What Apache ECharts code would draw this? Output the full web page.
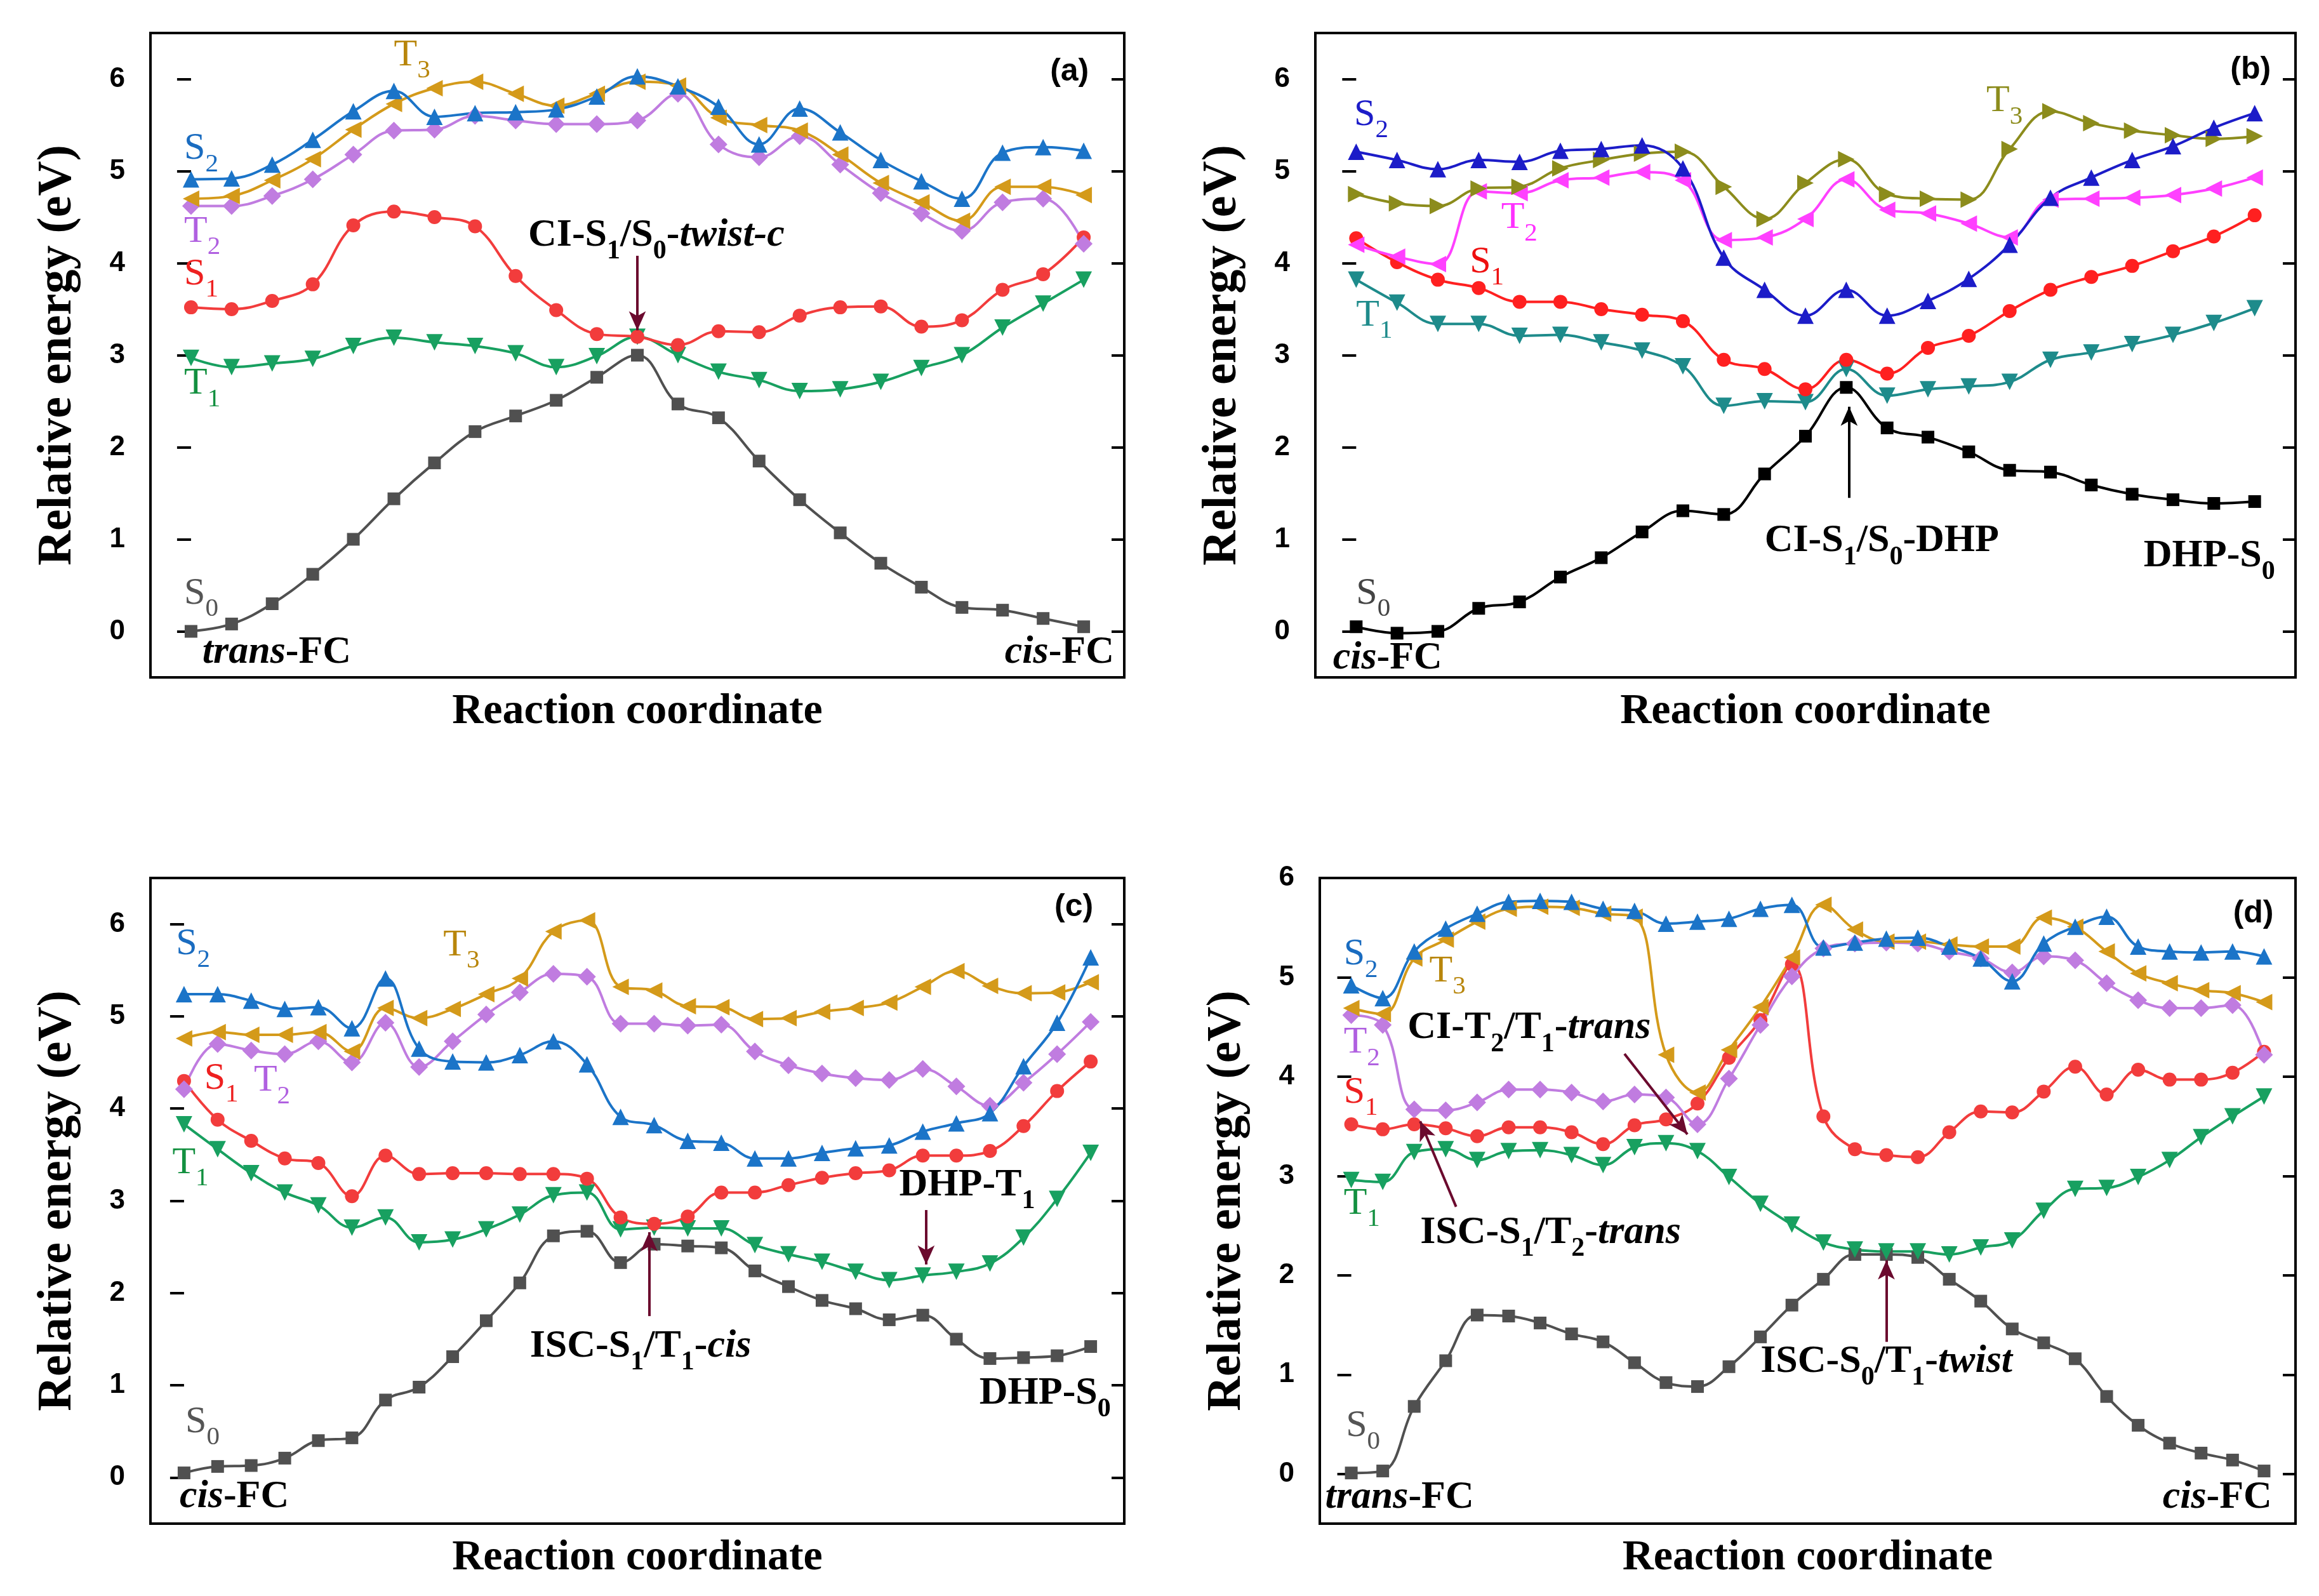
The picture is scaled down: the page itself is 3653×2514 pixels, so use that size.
<!DOCTYPE html>
<html>
<head>
<meta charset="utf-8">
<script src="https://cdn.jsdelivr.net/npm/echarts@6/dist/echarts.min.js"></script>
<style>
html, body { margin: 0; padding: 0; background: #fff; }
#main { width: 3653px; height: 2514px; }
</style>
</head>
<body>
<div id="main"></div>
<script>
// ---- panel (a) : trans-FC -> cis-FC
var aS0 = [0.00, 0.08, 0.30, 0.62, 1.00, 1.44, 1.83, 2.17, 2.34, 2.51, 2.76, 3.00, 2.47, 2.32, 1.85, 1.43, 1.07, 0.74, 0.48, 0.26, 0.23, 0.14, 0.05];
var aS1 = [3.52, 3.50, 3.59, 3.77, 4.41, 4.56, 4.50, 4.40, 3.86, 3.49, 3.23, 3.20, 3.11, 3.26, 3.25, 3.43, 3.52, 3.53, 3.31, 3.38, 3.71, 3.88, 4.28];
var aT1 = [2.97, 2.87, 2.91, 2.96, 3.10, 3.19, 3.14, 3.10, 3.02, 2.87, 2.99, 3.20, 3.00, 2.82, 2.73, 2.61, 2.63, 2.71, 2.86, 3.00, 3.30, 3.56, 3.82];
var aS2 = [4.91, 4.92, 5.07, 5.34, 5.65, 5.87, 5.59, 5.63, 5.64, 5.67, 5.81, 6.03, 5.92, 5.70, 5.29, 5.68, 5.42, 5.12, 4.89, 4.70, 5.20, 5.26, 5.22];
var aT2 = [4.62, 4.62, 4.73, 4.91, 5.18, 5.44, 5.45, 5.60, 5.55, 5.51, 5.51, 5.55, 5.84, 5.29, 5.15, 5.38, 5.07, 4.76, 4.54, 4.35, 4.66, 4.70, 4.21];
var aT3 = [4.70, 4.73, 4.90, 5.13, 5.45, 5.73, 5.90, 5.97, 5.84, 5.71, 5.84, 5.97, 5.93, 5.58, 5.50, 5.44, 5.18, 4.87, 4.66, 4.46, 4.83, 4.83, 4.74];

// ---- panel (b) : cis-FC -> DHP
var bS0 = [0.05, -0.02, 0.00, 0.25, 0.32, 0.59, 0.80, 1.08, 1.31, 1.27, 1.71, 2.12, 2.65, 2.21, 2.11, 1.95, 1.75, 1.73, 1.59, 1.49, 1.43, 1.39, 1.41];
var bS1 = [4.27, 4.01, 3.82, 3.73, 3.58, 3.58, 3.50, 3.44, 3.37, 2.95, 2.85, 2.63, 2.95, 2.80, 3.08, 3.21, 3.48, 3.71, 3.85, 3.97, 4.13, 4.29, 4.52];
var bT1 = [3.82, 3.57, 3.34, 3.34, 3.21, 3.22, 3.14, 3.05, 2.88, 2.45, 2.50, 2.49, 2.85, 2.56, 2.63, 2.66, 2.71, 2.95, 3.03, 3.12, 3.22, 3.35, 3.51];
var bS2 = [5.21, 5.12, 5.02, 5.12, 5.10, 5.22, 5.24, 5.28, 5.03, 4.06, 3.71, 3.43, 3.71, 3.43, 3.59, 3.83, 4.20, 4.71, 4.93, 5.12, 5.27, 5.47, 5.63];
var bT2 = [4.20, 4.07, 3.99, 4.78, 4.76, 4.90, 4.93, 4.99, 4.90, 4.25, 4.28, 4.48, 4.91, 4.58, 4.54, 4.43, 4.28, 4.69, 4.70, 4.71, 4.74, 4.81, 4.93];
var bT3 = [4.75, 4.65, 4.62, 4.81, 4.83, 5.03, 5.12, 5.19, 5.21, 4.83, 4.48, 4.87, 5.13, 4.75, 4.70, 4.69, 5.24, 5.65, 5.52, 5.44, 5.39, 5.35, 5.38];

// ---- panel (c) : cis-FC -> DHP (triplet)
var cS0 = [0.05, 0.12, 0.13, 0.21, 0.40, 0.43, 0.84, 0.98, 1.31, 1.70, 2.11, 2.62, 2.67, 2.33, 2.53, 2.51, 2.49, 2.24, 2.07, 1.92, 1.83, 1.71, 1.76, 1.50, 1.29, 1.30, 1.32, 1.42];
var cS1 = [4.30, 3.88, 3.65, 3.46, 3.41, 3.05, 3.49, 3.29, 3.30, 3.30, 3.29, 3.29, 3.24, 2.82, 2.75, 2.83, 3.09, 3.09, 3.17, 3.25, 3.30, 3.33, 3.49, 3.49, 3.54, 3.81, 4.19, 4.51];
var cT1 = [3.83, 3.56, 3.30, 3.09, 2.95, 2.71, 2.82, 2.55, 2.58, 2.69, 2.85, 3.06, 3.09, 2.69, 2.71, 2.70, 2.70, 2.52, 2.42, 2.34, 2.23, 2.14, 2.19, 2.23, 2.32, 2.60, 3.02, 3.52];
var cS2 = [5.24, 5.24, 5.17, 5.08, 5.10, 4.87, 5.41, 4.65, 4.51, 4.50, 4.58, 4.73, 4.48, 3.91, 3.82, 3.65, 3.63, 3.46, 3.46, 3.52, 3.57, 3.60, 3.75, 3.84, 3.95, 4.46, 4.93, 5.64];
var cT2 = [4.21, 4.70, 4.63, 4.59, 4.73, 4.50, 4.93, 4.45, 4.73, 5.02, 5.26, 5.46, 5.43, 4.92, 4.92, 4.90, 4.91, 4.62, 4.47, 4.38, 4.33, 4.31, 4.43, 4.24, 4.03, 4.28, 4.59, 4.94];
var cT3 = [4.76, 4.83, 4.80, 4.80, 4.83, 4.62, 5.09, 4.98, 5.08, 5.24, 5.41, 5.92, 6.04, 5.32, 5.28, 5.11, 5.10, 4.97, 4.98, 5.05, 5.09, 5.15, 5.32, 5.49, 5.33, 5.25, 5.26, 5.37];

// ---- panel (d) : trans-FC -> cis-FC (triplet)
var dS0 = [0.01, 0.03, 0.68, 1.14, 1.60, 1.59, 1.52, 1.41, 1.33, 1.12, 0.92, 0.88, 1.08, 1.38, 1.70, 1.96, 2.21, 2.21, 2.18, 1.96, 1.74, 1.46, 1.32, 1.16, 0.78, 0.49, 0.31, 0.21, 0.14, 0.03];
var dS1 = [3.52, 3.47, 3.52, 3.48, 3.40, 3.49, 3.49, 3.44, 3.32, 3.51, 3.57, 3.73, 4.19, 4.57, 5.13, 3.60, 3.27, 3.21, 3.19, 3.44, 3.65, 3.64, 3.85, 4.10, 3.82, 4.07, 3.97, 3.97, 4.04, 4.25];
var dT1 = [2.96, 2.94, 3.24, 3.27, 3.16, 3.25, 3.26, 3.21, 3.11, 3.29, 3.33, 3.25, 2.99, 2.72, 2.51, 2.33, 2.26, 2.24, 2.24, 2.21, 2.28, 2.35, 2.65, 2.87, 2.88, 2.99, 3.16, 3.39, 3.60, 3.80];
var dS2 = [4.92, 4.79, 5.26, 5.49, 5.64, 5.76, 5.77, 5.76, 5.69, 5.67, 5.54, 5.56, 5.59, 5.69, 5.73, 5.30, 5.35, 5.39, 5.40, 5.31, 5.19, 4.96, 5.34, 5.51, 5.61, 5.31, 5.26, 5.25, 5.26, 5.21];
var dT2 = [4.62, 4.52, 3.67, 3.66, 3.74, 3.87, 3.87, 3.84, 3.75, 3.82, 3.79, 3.52, 3.98, 4.52, 5.01, 5.29, 5.34, 5.35, 5.34, 5.26, 5.19, 5.05, 5.21, 5.17, 4.94, 4.77, 4.69, 4.69, 4.72, 4.22];
var dT3 = [4.69, 4.63, 5.19, 5.38, 5.56, 5.69, 5.71, 5.70, 5.64, 5.61, 4.22, 3.84, 4.27, 4.70, 5.20, 5.73, 5.48, 5.36, 5.36, 5.33, 5.31, 5.31, 5.60, 5.51, 5.26, 5.04, 4.94, 4.87, 4.84, 4.75];

var yTicks = [0, 1, 2, 3, 4, 5, 6];

var myChart = echarts.init(document.getElementById('main'));

var SERIF = '"Liberation Serif", "Times New Roman", serif';
var SANS = '"Liberation Sans Narrow", "Liberation Sans", Arial, sans-serif';

// colours
var pal1 = { S0: '#505050', S1: '#f23c3c', T1: '#18a060', S2: '#1b74c8', T2: '#c07ce0', T3: '#d49a1a' };
var lab1 = { S0: '#555555', S1: '#ee2020', T1: '#139040', S2: '#1a6cc0', T2: '#b060e0', T3: '#b8860b' };
var pal2 = { S0: '#000000', S1: '#ff2020', T1: '#1e8b8b', S2: '#1c1cc8', T2: '#ff40ff', T3: '#8c8c1c' };
var lab2 = { S0: '#444444', S1: '#ee1010', T1: '#1e8b8b', S2: '#1c1cc8', T2: '#ff30ff', T3: '#8c8c1c' };

// marker shapes [symbol, rotate, size]
var mk1 = { S0: ['rect', 0, 20], S1: ['circle', 0, 22], T1: ['triangle', 180, 26], S2: ['triangle', 0, 26], T2: ['diamond', 0, 28], T3: ['triangle', 90, 26] };
var mk2 = { S0: ['rect', 0, 20], S1: ['circle', 0, 22], T1: ['triangle', 180, 26], S2: ['triangle', 0, 26], T2: ['triangle', 90, 26], T3: ['triangle', -90, 26] };

var panels = [
  {
    data: { S0: aS0, S1: aS1, T1: aT1, S2: aS2, T2: aT2, T3: aT3 }, pal: pal1, lab: lab1, mk: mk1,
    grid: { left: 237, top: 52, width: 1534, height: 1015 }, ymax: 6.5, arrowColor: '#6b0a2e',
    arrows: [[[11, 4.08], [11, 3.27]]],
    labels: [
      [-0.17, 5.24, '{m|S}{s|2}', 'S2', 'ser'],
      [5.0, 6.26, '{m|T}{s|3}', 'T3', 'ser'],
      [-0.17, 4.34, '{m|T}{s|2}', 'T2', 'ser'],
      [-0.17, 3.88, '{m|S}{s|1}', 'S1', 'ser'],
      [-0.17, 2.69, '{m|T}{s|1}', 'T1', 'ser'],
      [-0.17, 0.41, '{m|S}{s|0}', 'S0', 'ser'],
      [0.28, -0.23, '{i|trans}{m|-FC}', null, 'anno'],
      [22.75, -0.23, '{i|cis}{m|-FC}', null, 'anno', 'right'],
      [8.31, 4.30, '{m|CI-S}{s|1}{m|/S}{s|0}{m|-}{i|twist-c}', null, 'anno'],
      [21.65, 6.08, '(a)', null, 'panel', 'center']
    ]
  },
  {
    data: { S0: bS0, S1: bS1, T1: bT1, S2: bS2, T2: bT2, T3: bT3 }, pal: pal2, lab: lab2, mk: mk2,
    grid: { left: 2072, top: 52, width: 1544, height: 1015 }, ymax: 6.5, arrowColor: '#000000',
    arrows: [[[12.07, 1.45], [12.07, 2.44]]],
    labels: [
      [-0.05, 5.61, '{m|S}{s|2}', 'S2', 'ser'],
      [15.43, 5.76, '{m|T}{s|3}', 'T3', 'ser'],
      [3.55, 4.49, '{m|T}{s|2}', 'T2', 'ser'],
      [2.78, 4.01, '{m|S}{s|1}', 'S1', 'ser'],
      [0.0, 3.43, '{m|T}{s|1}', 'T1', 'ser'],
      [0.0, 0.41, '{m|S}{s|0}', 'S0', 'ser'],
      [-0.57, -0.29, '{i|cis}{m|-FC}', null, 'anno'],
      [10.0, 0.98, '{m|CI-S}{s|1}{m|/S}{s|0}{m|-DHP}', null, 'anno'],
      [22.5, 0.82, '{m|DHP-S}{s|0}', null, 'anno', 'right'],
      [21.9, 6.1, '(b)', null, 'panel', 'center']
    ]
  },
  {
    data: { S0: cS0, S1: cS1, T1: cT1, S2: cS2, T2: cT2, T3: cT3 }, pal: pal1, lab: lab1, mk: mk1,
    grid: { left: 237, top: 1383, width: 1534, height: 1017 }, ymax: 6.5, arrowColor: '#6b0a2e',
    arrows: [[[13.85, 1.75], [13.85, 2.66]], [[22.1, 2.90], [22.1, 2.31]]],
    labels: [
      [-0.24, 5.78, '{m|S}{s|2}', 'S2', 'ser'],
      [7.72, 5.77, '{m|T}{s|3}', 'T3', 'ser'],
      [0.6, 4.32, '{m|S}{s|1}', 'S1', 'ser'],
      [2.08, 4.30, '{m|T}{s|2}', 'T2', 'ser'],
      [-0.35, 3.41, '{m|T}{s|1}', 'T1', 'ser'],
      [0.04, 0.60, '{m|S}{s|0}', 'S0', 'ser'],
      [-0.13, -0.21, '{i|cis}{m|-FC}', null, 'anno'],
      [10.3, 1.42, '{m|ISC-S}{s|1}{m|/T}{s|1}{m|-}{i|cis}', null, 'anno'],
      [21.3, 3.17, '{m|DHP-T}{s|1}', null, 'anno'],
      [27.6, 0.91, '{m|DHP-S}{s|0}', null, 'anno', 'right'],
      [26.5, 6.18, '(c)', null, 'panel', 'center']
    ]
  },
  {
    data: { S0: dS0, S1: dS1, T1: dT1, S2: dS2, T2: dT2, T3: dT3 }, pal: pal1, lab: lab1, mk: mk1,
    grid: { left: 2079, top: 1383, width: 1537, height: 1017 }, ymax: 6, arrowColor: '#6b0a2e',
    arrows: [[[8.68, 4.23], [10.68, 3.42]], [[3.33, 2.69], [2.19, 3.55]], [[17.0, 1.33], [17.0, 2.15]]],
    labels: [
      [-0.24, 5.23, '{m|S}{s|2}', 'S2', 'ser'],
      [2.48, 5.06, '{m|T}{s|3}', 'T3', 'ser'],
      [-0.24, 4.34, '{m|T}{s|2}', 'T2', 'ser'],
      [-0.24, 3.84, '{m|S}{s|1}', 'S1', 'ser'],
      [-0.24, 2.72, '{m|T}{s|1}', 'T1', 'ser'],
      [-0.17, 0.48, '{m|S}{s|0}', 'S0', 'ser'],
      [-0.83, -0.24, '{i|trans}{m|-FC}', null, 'anno'],
      [29.25, -0.24, '{i|cis}{m|-FC}', null, 'anno', 'right'],
      [1.79, 4.49, '{m|CI-T}{s|2}{m|/T}{s|1}{m|-}{i|trans}', null, 'anno'],
      [2.19, 2.43, '{m|ISC-S}{s|1}{m|/T}{s|2}{m|-}{i|trans}', null, 'anno'],
      [13.0, 1.13, '{m|ISC-S}{s|0}{m|/T}{s|1}{m|-}{i|twist}', null, 'anno'],
      [28.66, 5.64, '(d)', null, 'panel', 'center']
    ]
  }
];

var order = ['S0', 'T1', 'S1', 'T2', 'T3', 'S2'];

var option = {
  backgroundColor: '#ffffff',
  animation: false,
  grid: [],
  xAxis: [],
  yAxis: [],
  series: []
};

panels.forEach(function (p, gi) {
  var n = p.data.S0.length;
  option.grid.push(Object.assign({
    show: true, borderColor: '#000', borderWidth: 4, backgroundColor: 'transparent',
    containLabel: false, outerBoundsMode: 'none'
  }, p.grid));
  option.xAxis.push({
    gridIndex: gi, type: 'value', min: -1, max: n,
    axisLine: { show: false }, axisTick: { show: false }, axisLabel: { show: false }, splitLine: { show: false },
    name: 'Reaction coordinate', nameLocation: 'middle', nameGap: 20,
    nameTextStyle: { fontFamily: SERIF, fontWeight: 'bold', fontSize: 68, color: '#000', verticalAlign: 'top' }
  });
  option.yAxis.push({
    gridIndex: gi, type: 'value', position: 'left', min: -0.5, max: p.ymax,
    axisLine: { show: false },
    axisTick: { show: true, length: 22, lineStyle: { color: '#000', width: 4 }, customValues: yTicks },
    axisLabel: { show: true, customValues: yTicks, margin: 40, fontFamily: SANS, fontWeight: 'bold', fontSize: 44, color: '#000' },
    splitLine: { show: false },
    name: 'Relative energy (eV)', nameLocation: 'middle', nameGap: 108,
    nameTextStyle: { fontFamily: SERIF, fontWeight: 'bold', fontSize: 76, color: '#000' }
  });
  option.yAxis.push({
    gridIndex: gi, type: 'value', position: 'right', min: -0.5, max: p.ymax,
    axisLine: { show: false },
    axisTick: { show: true, inside: true, length: 20, lineStyle: { color: '#000', width: 4 }, customValues: yTicks },
    axisLabel: { show: false }, splitLine: { show: false }
  });

  order.forEach(function (key) {
    var m = p.mk[key];
    var s = {
      name: key, type: 'line', xAxisIndex: gi, yAxisIndex: gi * 2,
      data: p.data[key].map(function (v, i) { return [i, v]; }),
      smooth: 0.4,
      symbol: m[0], symbolRotate: m[1], symbolSize: m[2],
      lineStyle: { color: p.pal[key], width: 4 },
      itemStyle: { color: p.pal[key] },
      silent: true
    };
    if (key === 'S0') {
      s.markLine = {
        silent: true, symbol: ['none', 'arrow'], symbolSize: [20, 30],
        lineStyle: { color: p.arrowColor, width: 4, type: 'solid' },
        label: { show: false }, animation: false,
        data: p.arrows.map(function (a) { return [{ coord: a[0] }, { coord: a[1] }]; })
      };
    }
    option.series.push(s);
  });
});

myChart.setOption(option);

// text labels placed in data coordinates of each grid
function richFor(kind, color) {
  var size = kind === 'ser' ? 60 : 62;
  var w = kind === 'ser' ? 'normal' : 'bold';
  var sub = Math.round(size * 0.68);
  return {
    m: { fill: color, fontSize: size, fontFamily: SERIF, fontWeight: w },
    i: { fill: color, fontSize: size, fontFamily: SERIF, fontWeight: w, fontStyle: 'italic' },
    s: { fill: color, fontSize: sub, fontFamily: SERIF, fontWeight: w, padding: [Math.round(size * 0.82), 0, 0, 0] }
  };
}

var gfx = [];
panels.forEach(function (p, gi) {
  p.labels.forEach(function (l) {
    var pt = myChart.convertToPixel({ gridIndex: gi }, [l[0], l[1]]);
    var color = l[3] ? p.lab[l[3]] : '#000';
    var align = l[5] || 'left';
    var style;
    if (l[4] === 'panel') {
      style = { text: l[2], fill: '#000', fontFamily: '"Liberation Sans", Arial, sans-serif', fontWeight: 'bold', fontSize: 50,
        align: align, verticalAlign: 'middle' };
    } else {
      style = { text: l[2], rich: richFor(l[4], color), fill: color, align: align, verticalAlign: 'middle' };
    }
    gfx.push({ type: 'text', x: pt[0], y: pt[1], z: 100, silent: true, style: style });
  });
});

myChart.setOption({ graphic: gfx });
</script>
</body>
</html>
